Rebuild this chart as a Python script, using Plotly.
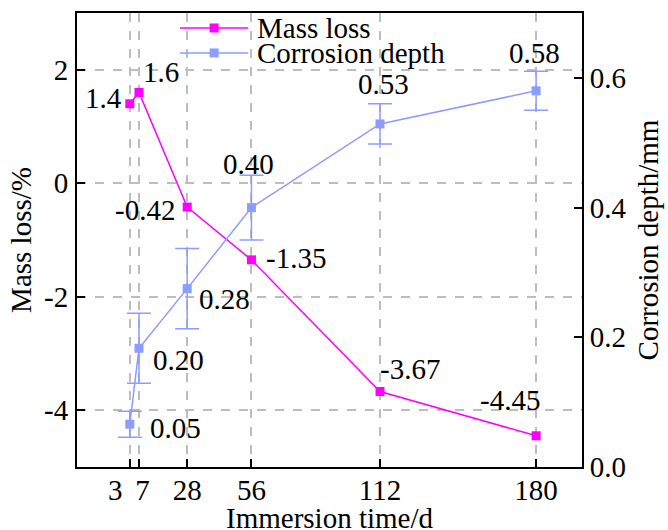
import plotly.graph_objects as go

# ---- data ----
days = [3, 7, 28, 56, 112, 180]
day_labels = ["3\u00a0\u00a0\u00a0\u00a0", "\u00a07", "28", "56", "112", "180"]
mass_loss = [1.4, 1.6, -0.42, -1.35, -3.67, -4.45]
mass_labels = ["1.4", "1.6", "-0.42", "-1.35", "-3.67", "-4.45"]
depth = [0.066, 0.183, 0.275, 0.40, 0.529, 0.58]
depth_err = [0.020, 0.054, 0.062, 0.050, 0.031, 0.030]
depth_labels = ["0.05", "0.20", "0.28", "0.40", "0.53", "0.58"]
left_ticks = [-4, -2, 0, 2]
left_ticktext = ["-4", "-2", "0", "2"]
right_ticks = [0.0, 0.2, 0.4, 0.6]
right_ticktext = ["0.0", "0.2", "0.4", "0.6"]

MAG = "#FF00FF"
BLU = "#8C9CFF"
FONT = "Liberation Serif, Times New Roman, Times, serif"
FS = 29

fig = go.Figure()
fig.add_trace(go.Scatter(
    x=days, y=mass_loss, mode="lines+markers", name="Mass loss",
    line=dict(color=MAG, width=1.5),
    marker=dict(symbol="square", size=9, color=MAG),
    yaxis="y", showlegend=False,
))
fig.add_trace(go.Scatter(
    x=days, y=depth, mode="lines+markers", name="Corrosion depth",
    line=dict(color=BLU, width=1.5),
    marker=dict(symbol="square", size=9, color=BLU),
    error_y=dict(type="data", array=depth_err, visible=True, color=BLU,
                 thickness=1.5, width=12),
    yaxis="y2", showlegend=False,
))

# label offsets (pixel shifts relative to each point)
mass_off = [("right", -6, 6), ("left", 2, 20), ("right", -10, -3),
            ("left", 13, 2), ("left", -2, 23), ("right", 6, 36)]
depth_off = [("left", 18, -4), ("left", 12, -12), ("left", 10, -10),
             ("center", -3, 44), ("center", 3, 40), ("center", -2, 38)]

ann = []
for xv, yv, t, (xa, dx, dy) in zip(days, mass_loss, mass_labels, mass_off):
    ann.append(dict(x=xv, y=yv, xref="x", yref="y", text=t, showarrow=False,
                    xanchor=xa, yanchor="middle", xshift=dx, yshift=dy,
                    font=dict(family=FONT, size=FS, color="black")))
for xv, yv, t, (xa, dx, dy) in zip(days, depth, depth_labels, depth_off):
    ann.append(dict(x=xv, y=yv, xref="x", yref="y2", text=t, showarrow=False,
                    xanchor=xa, yanchor="middle", xshift=dx, yshift=dy,
                    font=dict(family=FONT, size=FS, color="black")))

# custom legend
legend_rows = [("Mass loss", MAG, 0.967), ("Corrosion depth", BLU, 0.912)]
shapes = []
for name, col, yy in legend_rows:
    shapes.append(dict(type="line", xref="paper", yref="paper",
                       x0=0.204, x1=0.339, y0=yy, y1=yy,
                       line=dict(color=col, width=1.5)))
    shapes.append(dict(type="rect", xref="paper", yref="paper",
                       xsizemode="pixel", ysizemode="pixel",
                       xanchor=0.2715, yanchor=yy,
                       x0=-4.5, x1=4.5, y0=-4.5, y1=4.5,
                       fillcolor=col, line=dict(width=0)))
    ann.append(dict(x=0.352, y=yy, xref="paper", yref="paper", text=name,
                    showarrow=False, xanchor="left", yanchor="middle",
                    font=dict(family=FONT, size=FS, color="black")))

# x-axis title (placed as an annotation so it can sit low like the original)
ann.append(dict(x=0.5, y=-0.1123, xref="paper", yref="paper",
                text="Immersion time/d", showarrow=False,
                xanchor="center", yanchor="middle",
                font=dict(family=FONT, size=FS, color="black")))

grid = dict(showgrid=True, gridcolor="#BDBDBD", gridwidth=1.5, griddash="dash")

fig.update_layout(
    width=668, height=530,
    margin=dict(l=77, r=86, t=13, b=63, autoexpand=False),
    paper_bgcolor="white", plot_bgcolor="white",
    font=dict(family=FONT, size=FS, color="black"),
    annotations=ann, shapes=shapes,
    xaxis=dict(range=[-20, 200], tickvals=days, ticktext=day_labels,
               tickangle=0, automargin=False, ticklabelstandoff=-4,
               ticks="inside", ticklen=8, tickwidth=1.5, tickcolor="black",
               showline=True, linecolor="black", linewidth=2, mirror=True,
               zeroline=False, **grid),
    yaxis=dict(range=[-5, 3], tickvals=left_ticks, ticktext=left_ticktext,
               automargin=False,
               ticks="inside", ticklen=8, tickwidth=1.5, tickcolor="black",
               showline=True, linecolor="black", linewidth=2, mirror=True,
               zeroline=False, ticklabelstandoff=1, **grid,
               title=dict(text="Mass loss/%", standoff=4,
                          font=dict(family=FONT, size=FS))),
    yaxis2=dict(range=[0, 0.7], tickvals=right_ticks, ticktext=right_ticktext,
                overlaying="y", side="right", automargin=False,
                ticks="inside", ticklen=8, tickwidth=1.5, tickcolor="black",
                showline=True, linecolor="black", linewidth=2,
                showgrid=False, zeroline=False, ticklabelstandoff=0,
                title=dict(text="Corrosion depth/mm", standoff=12,
                           font=dict(family=FONT, size=FS))),
)

fig.write_html("out.html")
